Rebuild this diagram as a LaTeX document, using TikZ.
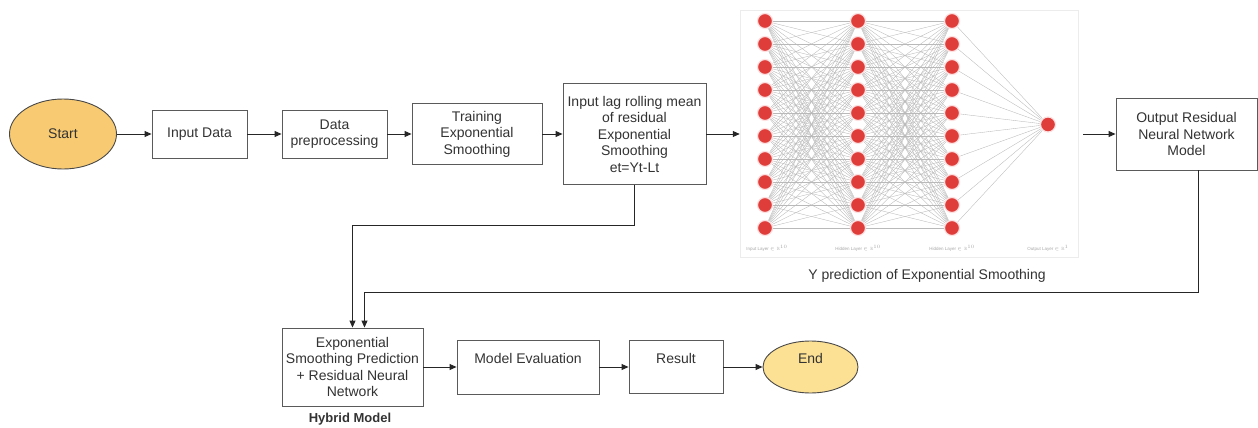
\documentclass[tikz,border=0pt]{standalone}
\usepackage{fontspec}
\setmainfont{Liberation Sans}
\usepackage{amssymb}
\usetikzlibrary{arrows.meta,backgrounds,shapes.geometric,calc}
\definecolor{boxline}{HTML}{5A5A5A}
\definecolor{txt}{HTML}{333333}
\definecolor{startfill}{HTML}{F8CB72}
\definecolor{endfill}{HTML}{FCE093}
\definecolor{neuron}{HTML}{DE3D3A}
\tikzset{
 basefont/.style={font=\fontsize{14}{16.5}\selectfont},
 box/.style={draw=boxline, line width=0.9pt, fill=white, align=center, inner sep=1pt, text=txt, basefont},
 termnode/.style={ellipse, draw=boxline!80!black, line width=0.9pt, inner sep=0pt, align=center, text=txt, basefont},
 flow/.style={draw=black!85, line width=0.9pt, -{Triangle[length=7pt,width=6pt]}},
 nnedge/.style={draw=gray!55, line width=0.35pt},
 neuronst/.style={circle, fill=neuron, draw=red!12, line width=1.2pt, minimum size=15pt, inner sep=0pt},
 nnlab/.style={font=\fontsize{4.5}{5}\selectfont, text=gray!70},
}
\begin{document}
\begin{tikzpicture}[x=1pt,y=-1pt]
\useasboundingbox (0,0) rectangle (1258,428);
% top row
\node[termnode, fill=startfill, minimum width=107pt, minimum height=70pt] (start) at (63,134) {Start};
\node[box, minimum width=95pt, minimum height=48pt] (input) at (199.5,134) {Input Data};
\node[box, minimum width=105pt, minimum height=48pt] (prep) at (334.5,134) {Data\\preprocessing};
\node[box, minimum width=130pt, minimum height=61pt] (train) at (477,134) {Training\\Exponential\\Smoothing};
\node[box, minimum width=143pt, minimum height=101pt] (lag) at (634.5,134) {Input lag rolling mean\\of residual\\Exponential\\Smoothing\\et=Yt-Lt};
% neural network
\node[draw=gray!15, line width=0.5pt, minimum width=338pt, minimum height=247pt, inner sep=0pt] (nn) at (909,133.5) {};
\foreach \l/\x in {1/765,2/858,3/952}{
  \foreach \i in {1,...,10}{
    \node[neuronst] (n\l-\i) at (\x,{21+23*(\i-1)}) {};
  }
}
\node[neuronst] (n4-1) at (1048,124.5) {};
\begin{scope}[on background layer]
\foreach \i in {1,...,10}{
  \foreach \j in {1,...,10}{
    \draw[nnedge] (n1-\i) -- (n2-\j);
    \draw[nnedge] (n2-\i) -- (n3-\j);
  }
  \draw[nnedge] (n3-\i) -- (n4-1);
}
\end{scope}
\node[nnlab] (lab1) at (767,248) {Input Layer $\in\mathbb{R}^{10}$};
\node[nnlab] (lab2) at (858,248) {Hidden Layer $\in\mathbb{R}^{10}$};
\node[nnlab] (lab3) at (952,248) {Hidden Layer $\in\mathbb{R}^{10}$};
\node[nnlab] (lab4) at (1048,248) {Output Layer $\in\mathbb{R}^{1}$};
\node[basefont, text=txt] (cap) at (927,276) {Y prediction of Exponential Smoothing};
\node[box, minimum width=141pt, minimum height=72pt] (out) at (1186.5,134) {Output Residual\\Neural Network\\Model};
% bottom row
\node[box, minimum width=141pt, minimum height=78pt] (hyb) at (352.5,367) {Exponential\\Smoothing Prediction\\+ Residual Neural\\Network};
\node[font=\bfseries\fontsize{13}{15}\selectfont, text=txt] (hyblab) at (350,419) {Hybrid Model};
\node[box, minimum width=142pt, minimum height=54pt] (eval) at (528,367) {Model Evaluation\\\mbox{}};
\node[box, minimum width=94pt, minimum height=53pt] (res) at (676,367) {Result\\\mbox{}};
\node[termnode, fill=endfill, minimum width=95pt, minimum height=52pt] (end) at (810.5,367) {End\\\mbox{}};
% connectors
\draw[flow] (start.east) -- (input.west);
\draw[flow] (input.east) -- (prep.west);
\draw[flow] (prep.east) -- (train.west);
\draw[flow] (train.east) -- (lag.west);
\draw[flow] (lag.east) -- (lag.east -| nn.west);
\draw[flow] ([xshift=5pt]nn.east |- out.west) -- (out.west);
\draw[flow] (lag.south) -- ++(0,40) -| ([xshift=0pt]hyb.north);
\draw[flow] ([xshift=12pt]out.south) -- ++(0,122) -| ([xshift=12pt]hyb.north);
\draw[flow] (hyb.east) -- (eval.west);
\draw[flow] (eval.east) -- (res.west);
\draw[flow] (res.east) -- (end.west);
\end{tikzpicture}
\end{document}
